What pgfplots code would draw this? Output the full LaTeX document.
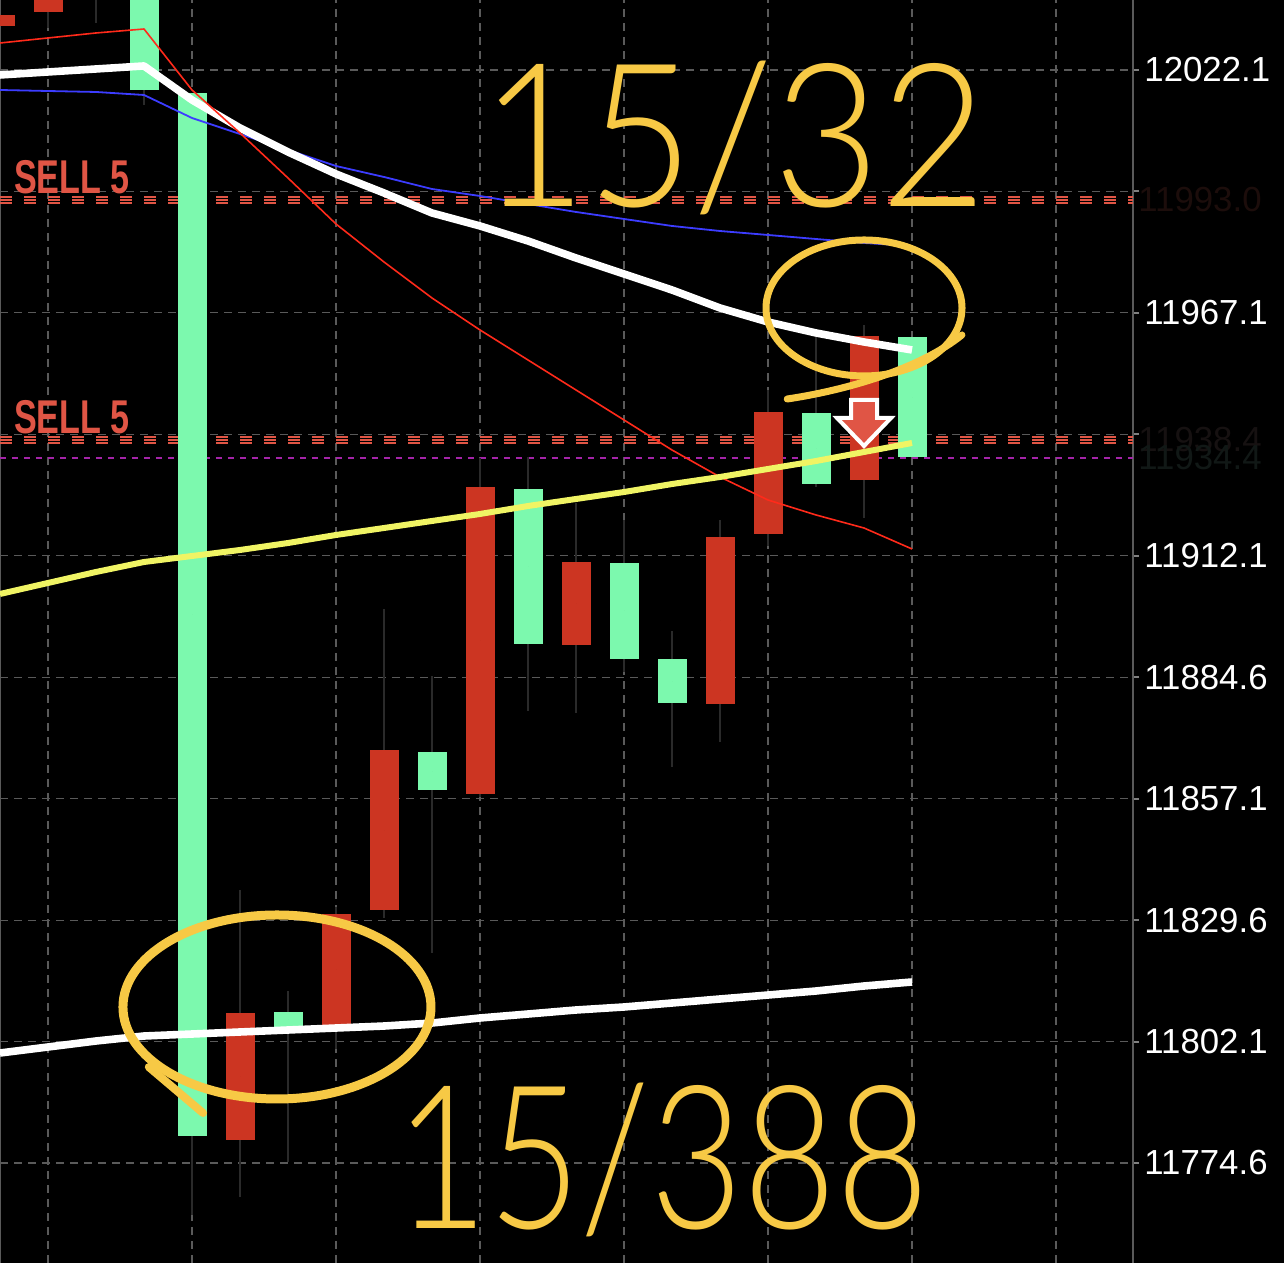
\documentclass[border=0pt]{standalone}
\usepackage{fontspec}
\setmainfont{Liberation Sans}
\newfontfamily\handfont{Lato Light}
\usepackage{pgfplots}
\usepackage{pgfplotstable}
\pgfplotsset{compat=1.18}
\definecolor{cred}{HTML}{CC3522}
\definecolor{cgreen}{HTML}{7CF9AE}
\definecolor{wick}{HTML}{2A2A2A}
\definecolor{gridc}{HTML}{5A5A5A}
\definecolor{sellred}{HTML}{E05545}
\definecolor{mared}{HTML}{FF2A1A}
\definecolor{mablue}{HTML}{3C3CFF}
\definecolor{mayellow}{HTML}{F0F464}
\definecolor{annot}{HTML}{F7C945}
\definecolor{purp}{HTML}{A424A8}

\pgfdeclareplotmark{sellarrow}{%
  \pgfpathmoveto{\pgfqpoint{-6.5pt}{11.5pt}}%
  \pgfpathlineto{\pgfqpoint{6.5pt}{11.5pt}}%
  \pgfpathlineto{\pgfqpoint{6.5pt}{2.5pt}}%
  \pgfpathlineto{\pgfqpoint{13.5pt}{2.5pt}}%
  \pgfpathlineto{\pgfqpoint{0pt}{-11.5pt}}%
  \pgfpathlineto{\pgfqpoint{-13.5pt}{2.5pt}}%
  \pgfpathlineto{\pgfqpoint{-6.5pt}{2.5pt}}%
  \pgfpathclose
  \pgfusepathqfillstroke}

% red candles: index, body top, body bottom, high, low
\pgfplotstableread{
x top bot hi lo
0 12034.78 12032.29 12034.78 12032.29
1 12045.00 12035.46 12050.00 12031.61
2 12048.00 12040.00 12050.00 12032.74
5 11808.80 11780.04 11836.42 11766.90
7 11830.98 11805.85 11832.57 11800.42
8 11868.12 11831.89 11900.05 11830.08
10 11927.90 11858.38 11934.24 11857.48
12 11910.92 11892.12 11924.05 11876.50
15 11916.35 11878.54 11920.20 11869.93
16 11944.66 11917.03 11949.87 11914.54
18 11961.87 11929.26 11964.36 11920.66
}\redc
% green candles
\pgfplotstableread{
x top bot hi lo
3 12045.00 12017.57 12050.00 12014.17
4 12016.89 11780.72 12016.89 11762.83
6 11808.80 11805.40 11813.78 11775.06
9 11867.67 11859.06 11884.88 11822.15
11 11927.22 11892.12 11934.47 11876.95
13 11910.47 11888.73 11920.20 11885.78
14 11888.73 11878.76 11895.07 11864.27
17 11944.43 11928.35 11961.64 11927.67
19 11961.64 11934.47 11961.64 11934.47
}\greenc
% moving averages
\pgfplotstableread{
x red blue wt yl lw
0 12028.21 12017.57 12020.97 11903.45 11799.51
1 12029.35 12017.34 12021.65 11905.94 11800.87
2 12030.48 12017.12 12022.33 11908.43 11802.23
3 12031.38 12016.44 12023.01 11910.69 11803.36
4 12017.57 12011.23 12015.31 11912.05 11803.81
5 12007.83 12007.61 12008.97 11913.41 11804.27
6 11997.64 12003.98 12003.53 11914.99 11804.72
7 11987.23 12000.36 11998.55 11916.81 11805.17
8 11978.62 11997.87 11994.25 11918.39 11805.62
9 11970.47 11995.15 11989.72 11919.98 11806.30
10 11963.23 11993.57 11986.78 11921.56 11807.44
11 11956.43 11991.76 11983.38 11923.37 11808.34
12 11949.64 11989.95 11979.53 11924.96 11809.25
13 11942.85 11988.36 11975.91 11926.54 11809.93
14 11936.05 11986.78 11972.28 11928.35 11810.83
15 11929.94 11985.64 11968.21 11929.94 11811.74
16 11924.73 11984.74 11965.04 11931.75 11812.64
17 11921.34 11983.83 11962.55 11933.56 11813.55
18 11918.39 11982.93 11960.51 11935.60 11814.68
19 11913.64 11982.25 11958.70 11937.64 11815.59
}\mas

\pgfplotsset{
  candle/.style 2 args={only marks, mark size=0pt, mark options={draw=none, fill=none},
    error bars/.cd, y dir=both, y explicit, error mark=none,
    error bar style={draw=#1, line width=#2}},
}

\begin{document}
\begin{tikzpicture}
\fill[black] (0,0) rectangle (642pt,631.5pt);
\begin{axis}[
  at={(0,0)}, anchor=south west,
  scale only axis, width=566.5pt, height=631.5pt,
  xmin=0, xmax=23.604, ymin=11751.96, ymax=12037.95,
  clip mode=individual,
  separate axis lines,
  x axis line style={draw=none},
  y axis line style={draw=gridc, line width=1pt},
  xtick={1,4,7,10,13,16,19,22}, xticklabels={}, xtick style={draw=none},
  xmajorgrids, ymajorgrids,
  major grid style={draw=gridc, line width=0.6pt, dash pattern=on 4pt off 3pt},
  ytick={11774.6,11802.1,11829.6,11857.1,11884.6,11912.1,11939.6,11967.1,11994.6,12022.1},
  yticklabels={11774.6,11802.1,11829.6,11857.1,11884.6,11912.1,,11967.1,,12022.1},
  ytick pos=right, yticklabel pos=right,
  tick align=outside, major tick length=3pt,
  ytick style={draw=gray, line width=1pt},
  yticklabel style={font=\fontsize{17.4}{20}\selectfont, text=white, anchor=west, inner sep=0pt, xshift=2.5pt},
]
% signal lines
\addplot[sellred, line width=0.8pt, dash pattern=on 6pt off 6pt] coordinates {(0,11993.35) (23.604,11993.35)};
\addplot[sellred, line width=0.8pt, dash pattern=on 6pt off 6pt] coordinates {(0,11992.66) (23.604,11992.66)};
\addplot[sellred, line width=0.8pt, dash pattern=on 6pt off 6pt] coordinates {(0,11991.98) (23.604,11991.98)};
\addplot[sellred, line width=0.8pt, dash pattern=on 6pt off 6pt] coordinates {(0,11939.00) (23.604,11939.00)};
\addplot[sellred, line width=0.8pt, dash pattern=on 6pt off 6pt] coordinates {(0,11938.32) (23.604,11938.32)};
\addplot[sellred, line width=0.8pt, dash pattern=on 6pt off 6pt] coordinates {(0,11937.64) (23.604,11937.64)};
\addplot[purp, line width=1.3pt, dash pattern=on 3pt off 3pt] coordinates {(0,11934.24) (23.604,11934.24)};
% wicks
\addplot[candle={wick}{1pt}]
  table[x=x, y expr={(\thisrow{hi}+\thisrow{lo})/2}, y error expr={(\thisrow{hi}-\thisrow{lo})/2}] {\redc};
\addplot[candle={wick}{1pt}]
  table[x=x, y expr={(\thisrow{hi}+\thisrow{lo})/2}, y error expr={(\thisrow{hi}-\thisrow{lo})/2}] {\greenc};
% bodies
\addplot[candle={cred}{14.5pt}]
  table[x=x, y expr={(\thisrow{top}+\thisrow{bot})/2}, y error expr={(\thisrow{top}-\thisrow{bot})/2}] {\redc};
\addplot[candle={cgreen}{14.5pt}]
  table[x=x, y expr={(\thisrow{top}+\thisrow{bot})/2}, y error expr={(\thisrow{top}-\thisrow{bot})/2}] {\greenc};
% moving averages
\addplot[mablue, line width=0.9pt, line join=round] table[x=x, y=blue] {\mas};
\addplot[white, line width=3.8pt, line join=round] table[x=x, y=wt] {\mas};
\addplot[mared, line width=0.8pt, line join=round] table[x=x, y=red] {\mas};
\addplot[mayellow, line width=3pt, line join=round] table[x=x, y=yl] {\mas};
\addplot[white, line width=3.8pt, line join=round] table[x=x, y=lw] {\mas};
% sell signal arrow
\addplot[only marks, mark=sellarrow, mark options={fill=sellred, draw=white, line width=2pt, line join=miter}] coordinates {(18,11942.17)};
% SELL labels
\node[text=sellred, anchor=base west, inner sep=0pt, xscale=0.72, font=\bfseries\fontsize{23.7}{24}\selectfont] at (axis cs:0.29,11994.02) {SELL 5};
\node[text=sellred, anchor=base west, inner sep=0pt, xscale=0.72, font=\bfseries\fontsize{23.7}{24}\selectfont] at (axis cs:0.29,11939.90) {SELL 5};
% faint price tags
\node[anchor=west, inner sep=0pt, xshift=2.5pt, text={rgb,255:red,28;green,13;blue,11}, font=\fontsize{17.4}{20}\selectfont] at (axis cs:23.604,11992.66) {11993.0};
\node[anchor=west, inner sep=0pt, xshift=2.5pt, text={rgb,255:red,22;green,17;blue,17}, font=\fontsize{17.4}{20}\selectfont] at (axis cs:23.604,11938.32) {11938.4};
\node[anchor=west, inner sep=0pt, xshift=2.5pt, text={rgb,255:red,17;green,24;blue,22}, font=\fontsize{17.4}{20}\selectfont] at (axis cs:23.604,11934.24) {11934.4};
% hand annotations
\draw[annot, line width=3.5pt] (axis cs:18.0,11968.21) ellipse [x radius=49pt, y radius=34pt];
\draw[annot, line width=3.5pt, line cap=round] (axis cs:16.40,11947.6) .. controls (axis cs:17.7,11949.7) and (axis cs:19.2,11954.7) .. (axis cs:20.04,11962.1);
\draw[annot, line width=4.5pt] (axis cs:5.77,11809.93) ellipse [x radius=77pt, y radius=46pt];
\draw[annot, line width=4pt, line cap=round] (axis cs:3.1,11796.34) -- (axis cs:4.23,11785.92);
\node[text=annot, anchor=base west, inner sep=0pt, xscale=0.92, font=\handfont\fontsize{100}{100}\selectfont] at (axis cs:10.0,11991.08) {15/32};
\node[text=annot, anchor=base west, inner sep=0pt, xscale=0.8, font=\handfont\fontsize{100}{100}\selectfont] at (axis cs:8.23,11759.88) {15/388};
\end{axis}
\pgfresetboundingbox
\path[use as bounding box] (0,0) rectangle (642pt,631.5pt);
\end{tikzpicture}
\end{document}
